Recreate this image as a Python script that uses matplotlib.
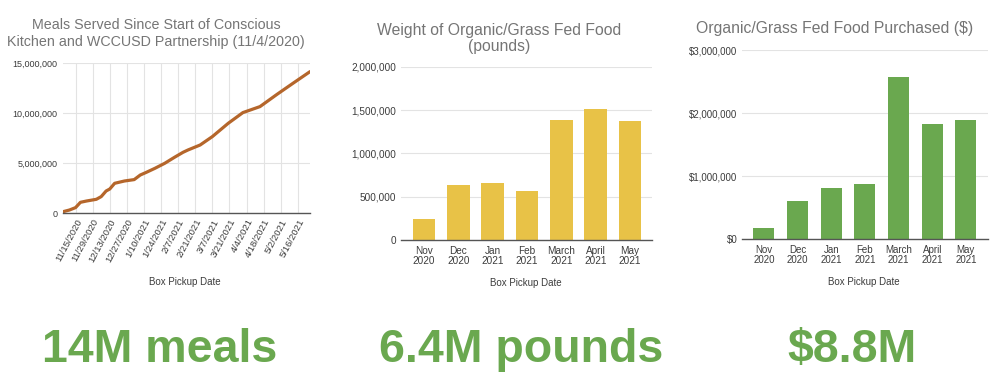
import numpy as np
import pandas as pd
import matplotlib.pyplot as plt
from matplotlib.ticker import FuncFormatter

plt.rcParams['font.family'] = ['Liberation Sans', 'DejaVu Sans']

# meals served (cumulative)
meal_dates = ["2020-11-05", "2020-11-10", "2020-11-15", "2020-11-19", "2020-11-24",
              "2020-12-02", "2020-12-06", "2020-12-10", "2020-12-13", "2020-12-17",
              "2020-12-25", "2021-01-02", "2021-01-07", "2021-01-12", "2021-01-19",
              "2021-01-27", "2021-02-04", "2021-02-11", "2021-02-15", "2021-02-25",
              "2021-03-07", "2021-03-20", "2021-04-01", "2021-04-15", "2021-04-29",
              "2021-05-12", "2021-05-26"]
meals = [170000, 330000, 570000, 1100000, 1230000,
         1400000, 1670000, 2230000, 2430000, 3000000,
         3230000, 3370000, 3830000, 4100000, 4500000,
         5000000, 5600000, 6100000, 6330000, 6830000,
         7670000, 9000000, 10070000, 10670000, 11900000,
         13000000, 14170000]
meal_ticks = ["2020-11-15", "2020-11-29", "2020-12-13", "2020-12-27", "2021-01-10",
              "2021-01-24", "2021-02-07", "2021-02-21", "2021-03-07", "2021-03-21",
              "2021-04-04", "2021-04-18", "2021-05-02", "2021-05-16"]
meal_tick_labels = ["11/15/2020", "11/29/2020", "12/13/2020", "12/27/2020", "1/10/2021",
                    "1/24/2021", "2/7/2021", "2/21/2021", "3/7/2021", "3/21/2021",
                    "4/4/2021", "4/18/2021", "5/2/2021", "5/16/2021"]

months = ["Nov\n2020", "Dec\n2020", "Jan\n2021", "Feb\n2021", "March\n2021", "April\n2021", "May\n2021"]
weight_lbs = [242000, 638000, 658000, 565000, 1388000, 1508000, 1377000]
spent_usd = [169000, 603000, 810000, 868000, 2566000, 1820000, 1894000]

title_color = '#757575'
tick_color = '#3c3c3c'
grid_color = '#e3e3e3'

fig = plt.figure(figsize=(9.96, 3.82), dpi=100)
fig.patch.set_facecolor('white')


def style(ax, size):
    for s in ['top', 'right', 'left']:
        ax.spines[s].set_visible(False)
    ax.spines['bottom'].set_color('#555555')
    ax.spines['bottom'].set_linewidth(1.0)
    ax.tick_params(length=0, labelsize=size, colors=tick_color)
    ax.grid(axis='y', color=grid_color, linewidth=0.8)
    ax.set_axisbelow(True)


# --- meals line chart
ax1 = fig.add_axes([0.0636, 0.4416, 0.2477, 0.3927])
style(ax1, 6.5)
x = pd.to_datetime(meal_dates)
ax1.plot(x, meals, color='#b5662b', linewidth=2.3, solid_capstyle='round')
ax1.set_ylim(0, 15000000)
ax1.set_yticks([0, 5000000, 10000000, 15000000])
ax1.yaxis.set_major_formatter(FuncFormatter(lambda v, p: f"{int(v):,}"))
ax1.set_xlim(pd.Timestamp("2020-11-05"), pd.Timestamp("2021-05-26"))
ax1.set_xticks(pd.to_datetime(meal_ticks))
ax1.set_xticklabels(meal_tick_labels, rotation=62, ha='right', rotation_mode='anchor', fontsize=6.8)
ax1.grid(axis='x', color=grid_color, linewidth=0.8)
ax1.tick_params(axis='x', pad=3)
ax1.tick_params(axis='y', pad=4)
fig.text(0.157, 1 - 33.5 / 382, "Meals Served Since Start of Conscious\nKitchen and WCCUSD Partnership (11/4/2020)",
         ha='center', va='center', fontsize=10.3, color=title_color, linespacing=1.3)
fig.text(0.186, 1 - 282 / 382, "Box Pickup Date", ha='center', va='center', fontsize=7, color=tick_color)

# --- weight bar chart
ax2 = fig.add_axes([0.4023, 0.3717, 0.2523, 0.4537])
style(ax2, 7.2)
pos = np.arange(len(months))
ax2.bar(pos, weight_lbs, width=0.66, color='#e8c247')
ax2.set_ylim(0, 2000000)
ax2.set_yticks([0, 500000, 1000000, 1500000, 2000000])
ax2.yaxis.set_major_formatter(FuncFormatter(lambda v, p: f"{int(v):,}"))
ax2.set_xlim(-0.68, 6.64)
ax2.set_xticks(pos)
ax2.set_xticklabels(months, linespacing=1.0)
ax2.tick_params(axis='x', pad=4)
ax2.tick_params(axis='y', pad=3)
fig.text(0.501, 1 - 38.5 / 382, "Weight of Organic/Grass Fed Food\n(pounds)",
         ha='center', va='center', fontsize=11.3, color=title_color, linespacing=1.15)
fig.text(0.528, 1 - 283 / 382, "Box Pickup Date", ha='center', va='center', fontsize=7, color=tick_color)

# --- spending bar chart
ax3 = fig.add_axes([0.7447, 0.3743, 0.2473, 0.4948])
style(ax3, 7.0)
ax3.bar(pos, spent_usd, width=0.625, color='#6aa84f')
ax3.set_ylim(0, 3000000)
ax3.set_yticks([0, 1000000, 2000000, 3000000])
ax3.yaxis.set_major_formatter(FuncFormatter(lambda v, p: f"${int(v):,}"))
ax3.set_xlim(-0.66, 6.66)
ax3.set_xticks(pos)
ax3.set_xticklabels(months, linespacing=1.0)
ax3.tick_params(axis='x', pad=4)
ax3.tick_params(axis='y', pad=3)
fig.text(0.8375, 1 - 28 / 382, "Organic/Grass Fed Food Purchased ($)",
         ha='center', va='center', fontsize=11.3, color=title_color)
fig.text(0.867, 1 - 282 / 382, "Box Pickup Date", ha='center', va='center', fontsize=7, color=tick_color)

# --- headline numbers
big = dict(ha='center', va='baseline', fontsize=33.5, fontweight='bold', color='#6aa84f')
fig.text(160 / 996, 1 - 362 / 382, "14M meals", **big)
fig.text(521 / 996, 1 - 362 / 382, "6.4M pounds", **big)
fig.text(852 / 996, 1 - 362 / 382, "$8.8M", **big)

fig.savefig("out.png", dpi=100, facecolor='white')
